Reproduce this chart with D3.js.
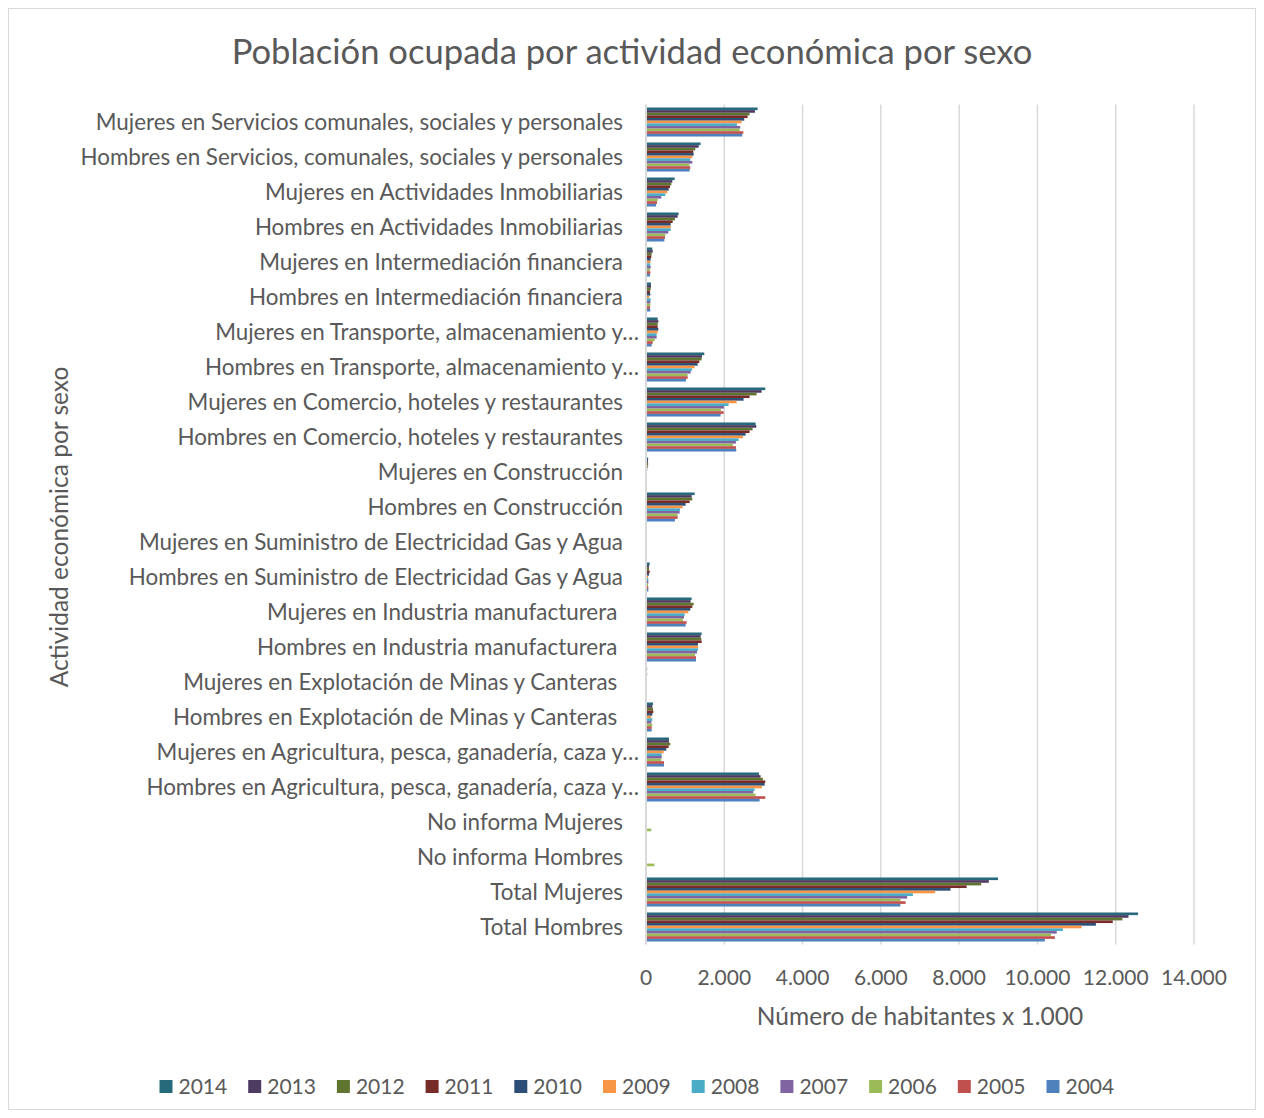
<!DOCTYPE html>
<html><head><meta charset="utf-8">
<script src="https://cdn.jsdelivr.net/npm/d3@7"></script>
<style>
body{margin:0;background:#fff;}
text{font-family:Lato,"Open Sans",sans-serif;fill:#595959;}
</style></head>
<body><svg id="chart" width="1264" height="1118"></svg>
<script>
const categories = [
 "Mujeres en Servicios comunales, sociales y personales",
 "Hombres en Servicios, comunales, sociales y personales",
 "Mujeres en Actividades Inmobiliarias",
 "Hombres en Actividades Inmobiliarias",
 "Mujeres en Intermediación financiera",
 "Hombres en Intermediación financiera",
 "Mujeres en Transporte, almacenamiento y…",
 "Hombres en Transporte, almacenamiento y…",
 "Mujeres en Comercio, hoteles y restaurantes",
 "Hombres en Comercio, hoteles y restaurantes",
 "Mujeres en Construcción",
 "Hombres en Construcción",
 "Mujeres en Suministro de Electricidad Gas y Agua",
 "Hombres en Suministro de Electricidad Gas y Agua",
 "Mujeres en Industria manufacturera ",
 "Hombres en Industria manufacturera ",
 "Mujeres en Explotación de Minas y Canteras ",
 "Hombres en Explotación de Minas y Canteras ",
 "Mujeres en Agricultura, pesca, ganadería, caza y…",
 "Hombres en Agricultura, pesca, ganadería, caza y…",
 "No informa Mujeres",
 "No informa Hombres",
 "Total Mujeres",
 "Total Hombres"
];
const years = ["2014","2013","2012","2011","2010","2009","2008","2007","2006","2005","2004"];
const v2014 = [2851,1396,732,834,162,128,298,1489,3047,2800,55,1242,10,94,1166,1421,30,179,587,2885,0,0,8994,12571];
const v2013 = [2783,1345,672,808,170,128,315,1430,2953,2817,50,1166,8,77,1140,1396,25,162,587,2927,0,0,8758,12326];
const v2012 = [2647,1259,647,740,145,119,298,1421,2825,2723,55,1183,8,77,1217,1413,30,179,621,2987,0,0,8563,12170];
const v2011 = [2596,1208,613,681,136,102,298,1362,2647,2647,40,1115,8,94,1183,1421,25,187,579,3047,0,0,8191,11925];
const v2010 = [2510,1217,579,630,119,111,315,1319,2493,2544,30,1013,8,77,1132,1328,25,162,519,3030,0,0,7780,11494];
const v2009 = [2442,1183,545,630,111,85,298,1242,2315,2476,25,936,5,51,1081,1328,25,136,451,2961,0,0,7388,11130];
const v2008 = [2323,1132,494,630,111,119,272,1174,2110,2366,20,868,5,60,987,1328,15,162,400,2774,0,0,6818,10650];
const v2007 = [2408,1183,391,570,119,111,272,1140,1991,2298,20,860,5,60,970,1302,15,136,400,2740,0,0,6671,10494];
const v2006 = [2391,1106,298,494,102,111,221,1064,1915,2221,20,808,5,51,945,1251,15,162,391,2800,135,214,6504,10347];
const v2005 = [2485,1132,281,485,111,102,170,1064,1983,2298,20,808,5,60,1038,1277,15,145,460,3047,0,0,6632,10446];
const v2004 = [2459,1115,255,468,102,111,145,1021,1906,2306,20,740,5,60,1013,1277,15,145,460,2902,0,0,6497,10191];
const seriesValues = [v2014,v2013,v2012,v2011,v2010,v2009,v2008,v2007,v2006,v2005,v2004];
const colors = ["#276A7C","#4D3B62","#5F7530","#772C2A","#2C4D75","#F79646","#4BACC6","#8064A2","#9BBB59","#C0504D","#4F81BD"];
const xTicks = [0,2000,4000,6000,8000,10000,12000,14000];
const title = "Población ocupada por actividad económica por sexo";
const xTitle = "Número de habitantes x 1.000";
const yTitle = "Actividad económica por sexo";

const svg = d3.select("#chart");
svg.append("rect").attr("x",8.5).attr("y",8.5).attr("width",1247).attr("height",1101)
  .attr("fill","#fff").attr("stroke","#d9d9d9").attr("stroke-width",1);

const margin = {left:646, right:1194, top:104.5, bottom:944.5};
const x = d3.scaleLinear().domain([0,14000]).range([margin.left, margin.right]);
const y = d3.scaleBand().domain(categories).range([margin.top, margin.bottom]).paddingInner(0.17).paddingOuter(0.085);
const ySub = d3.scaleBand().domain(years).range([0, y.bandwidth()]);

const loc = d3.formatLocale({decimal:",", thousands:".", grouping:[3], currency:["",""]});
const fmt = loc.format(",d");

// gridlines
svg.append("g").selectAll("line").data(xTicks.slice(1)).join("line")
  .attr("x1",d=>x(d)).attr("x2",d=>x(d)).attr("y1",margin.top).attr("y2",margin.bottom)
  .attr("stroke","#d9d9d9").attr("stroke-width",1.5);

// bars
const gBars = svg.append("g");
years.forEach((yr,si)=>{
  gBars.append("g").selectAll("rect").data(seriesValues[si].map((v,i)=>({v,c:categories[i]}))).join("rect")
    .attr("x",x(0)).attr("y",d=>y(d.c)+ySub(yr))
    .attr("width",d=>Math.max(0,x(d.v)-x(0))).attr("height",ySub.bandwidth())
    .attr("fill",colors[si]);
});

// y axis line
svg.append("line").attr("x1",x(0)).attr("x2",x(0)).attr("y1",margin.top).attr("y2",margin.bottom)
  .attr("stroke","#d9d9d9").attr("stroke-width",2);

// category labels
svg.append("g").selectAll("text").data(categories).join("text")
  .attr("x",d=> d.endsWith("…") ? 639 : 623)
  .attr("y",d=>y(d)+y.bandwidth()/2).attr("dy","0.36em")
  .attr("text-anchor","end").style("white-space","pre")
  .attr("font-size",22.4).text(d=>d);

// x tick labels
svg.append("g").selectAll("text").data(xTicks).join("text")
  .attr("x",d=>x(d)).attr("y",985).attr("text-anchor","middle")
  .attr("font-size",21).text(d=>fmt(d));

// titles
svg.append("text").attr("x",632).attr("y",64).attr("text-anchor","middle").attr("font-size",34.6).text(title);
svg.append("text").attr("x",920).attr("y",1025).attr("text-anchor","middle").attr("font-size",24.5).text(xTitle);
svg.append("text").attr("transform","translate(68,527) rotate(-90)").attr("text-anchor","middle").attr("font-size",24.5).text(yTitle);

// legend
const lg = svg.append("g").selectAll("g").data(years).join("g")
  .attr("transform",(d,i)=>`translate(${159.5 + i*88.7},1086)`);
lg.append("rect").attr("x",0).attr("y",-6).attr("width",13).attr("height",13).attr("fill",(d,i)=>colors[i]);
lg.append("text").attr("x",19).attr("y",0).attr("dy","0.36em").attr("font-size",21).text(d=>d);
</script></body></html>
